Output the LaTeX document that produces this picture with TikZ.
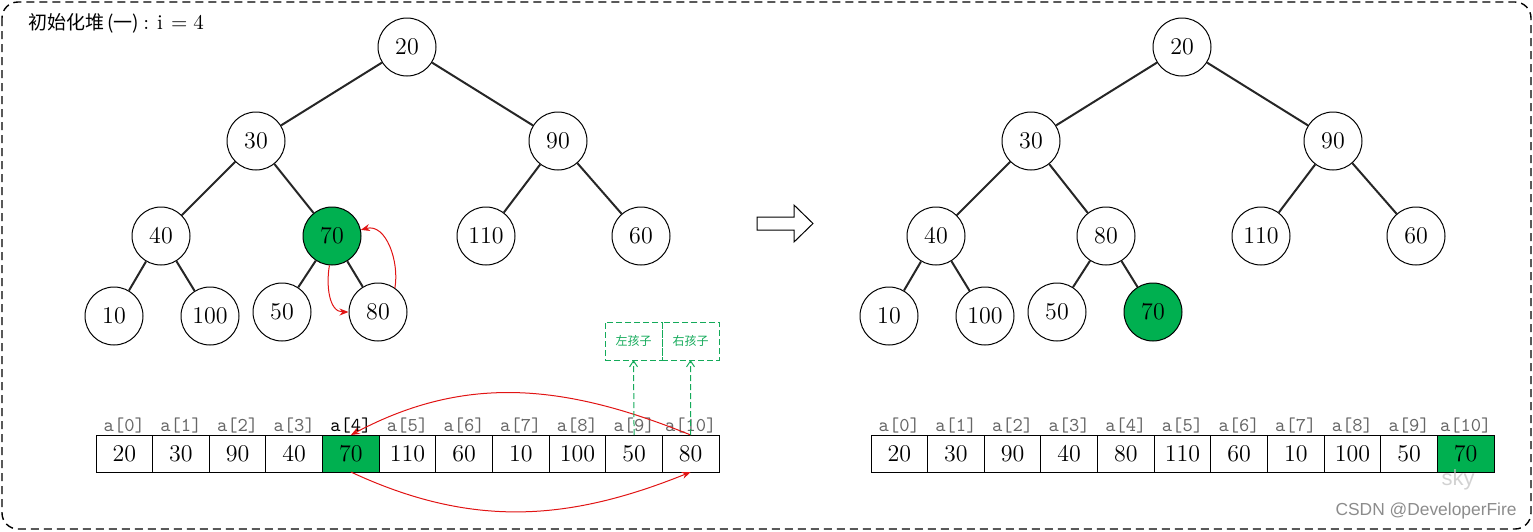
\documentclass[tikz,border=0pt]{standalone}
\usepackage{fontspec}
\newfontfamily\cjk{Noto Sans CJK SC}
\newfontfamily\wmark{Liberation Sans}
\usetikzlibrary{positioning, arrows.meta}
\definecolor{heapgreen}{RGB}{0,176,80}
\definecolor{swapred}{RGB}{225,20,20}
\definecolor{hintgreen}{RGB}{20,170,90}
\tikzset{
  hnode/.style={circle, draw, line width=0.5pt, minimum size=29pt, inner sep=0pt, font=\fontsize{12}{14}\selectfont},
  hot/.style={fill=heapgreen},
  edge/.style={line width=1pt, black!85},
  cell/.style={rectangle, draw, line width=0.5pt, minimum width=28.32pt, minimum height=18.5pt, inner sep=0pt, outer sep=0pt, font=\fontsize{12}{14}\selectfont},
  lbl/.style={black!60, inner sep=0.5pt, font=\ttfamily\fontsize{9.8}{11}\selectfont},
  swap/.style={swapred, line width=0.5pt, -{Stealth[length=4.5pt, width=3.5pt]}},
  hintbox/.style={rectangle, draw=hintgreen, dash pattern=on 3pt off 1.5pt, line width=0.5pt, minimum width=28.5pt, minimum height=19pt, inner sep=0pt, outer sep=0pt, text=hintgreen, font=\cjk\fontsize{6}{7}\selectfont},
  hint/.style={hintgreen, line width=0.5pt, dash pattern=on 3pt off 1.5pt, -{Straight Barb[length=3pt, width=4pt]}}
}

\begin{document}
\begin{tikzpicture}[x=0.5pt, y=-0.5pt]
    \useasboundingbox (0,0) rectangle (1533,531);
    \draw[line width=0.7pt, dash pattern=on 4pt off 2.5pt, rounded corners=8pt] (2,2) rectangle (1531,529);
    \node (title) at (28,23) [anchor=west, inner sep=0pt, font=\cjk\fontsize{9.5}{11}\selectfont] {初始化堆\,(一)\hspace{2pt}{\rmfamily\fontsize{10.5}{11}\selectfont:\hspace{4pt}i\hspace{4pt}=\hspace{3pt}4}};

    % heap before the swap
    \node (a20)  at (407,47)  [hnode] {20};
    \node (a30)  at (256,141) [hnode] {30};
    \node (a90)  at (558,141) [hnode] {90};
    \node (a40)  at (161,236) [hnode] {40};
    \node (a70)  at (332,236) [hnode, hot] {70};
    \node (a110) at (486,236) [hnode] {110};
    \node (a60)  at (641,236) [hnode] {60};
    \node (a10)  at (114,316) [hnode] {10};
    \node (a100) at (210,316) [hnode] {100};
    \node (a50)  at (282,312) [hnode] {50};
    \node (a80)  at (378,312) [hnode] {80};
    \draw[edge] (a20) -- (a30);
    \draw[edge] (a20) -- (a90);
    \draw[edge] (a30) -- (a40);
    \draw[edge] (a30) -- (a70);
    \draw[edge] (a90) -- (a110);
    \draw[edge] (a90) -- (a60);
    \draw[edge] (a40) -- (a10);
    \draw[edge] (a40) -- (a100);
    \draw[edge] (a70) -- (a50);
    \draw[edge] (a70) -- (a80);
    \draw[swap] (a70.-95) to[out=-100, in=180] (a80.west);
    \draw[swap] (a80.55) to[out=80, in=15] (a70.12);

    % array before the swap
    \node (l0)  at (96,453.5) [cell, anchor=west, label={[lbl]above:{a[0]}}] {20};
    \node (l1)  [cell, right=0pt of l0, label={[lbl]above:{a[1]}}] {30};
    \node (l2)  [cell, right=0pt of l1, label={[lbl]above:{a[2]}}] {90};
    \node (l3)  [cell, right=0pt of l2, label={[lbl]above:{a[3]}}] {40};
    \node (l4)  [cell, hot, right=0pt of l3, label={[lbl, black]above:{a[4]}}] {70};
    \node (l5)  [cell, right=0pt of l4, label={[lbl]above:{a[5]}}] {110};
    \node (l6)  [cell, right=0pt of l5, label={[lbl]above:{a[6]}}] {60};
    \node (l7)  [cell, right=0pt of l6, label={[lbl]above:{a[7]}}] {10};
    \node (l8)  [cell, right=0pt of l7, label={[lbl]above:{a[8]}}] {100};
    \node (l9)  [cell, right=0pt of l8, label={[lbl]above:{a[9]}}] {50};
    \node (l10) [cell, right=0pt of l9, label={[lbl]above:{a[10]}}] {80};
    \draw[swap] (l10.north) to[out=158, in=28] (l4.north);
    \draw[swap] (l4.south) to[out=-25, in=-158] (l10.south);

    \node (lkid) at (633.5,341) [hintbox] {左孩子};
    \node (rkid) [hintbox, right=0pt of lkid] {右孩子};
    \draw[hint] (l9.north) -- (lkid.south);
    \draw[hint] (l10.north) -- (rkid.south);

    \draw[line width=0.5pt] (757,217) -- (794,217) -- (794,205) -- (813,223.5) -- (794,242) -- (794,230) -- (757,230) -- cycle;

    % heap after the swap
    \node (b20)  at (1182,47)  [hnode] {20};
    \node (b30)  at (1031,141) [hnode] {30};
    \node (b90)  at (1333,141) [hnode] {90};
    \node (b40)  at (936,236)  [hnode] {40};
    \node (b80)  at (1106,236) [hnode] {80};
    \node (b110) at (1261,236) [hnode] {110};
    \node (b60)  at (1416,236) [hnode] {60};
    \node (b10)  at (889,316)  [hnode] {10};
    \node (b100) at (985,316)  [hnode] {100};
    \node (b50)  at (1057,312) [hnode] {50};
    \node (b70)  at (1153,312) [hnode, hot] {70};
    \draw[edge] (b20) -- (b30);
    \draw[edge] (b20) -- (b90);
    \draw[edge] (b30) -- (b40);
    \draw[edge] (b30) -- (b80);
    \draw[edge] (b90) -- (b110);
    \draw[edge] (b90) -- (b60);
    \draw[edge] (b40) -- (b10);
    \draw[edge] (b40) -- (b100);
    \draw[edge] (b80) -- (b50);
    \draw[edge] (b80) -- (b70);

    % array after the swap
    \node (r0)  at (871,453.5) [cell, anchor=west, label={[lbl]above:{a[0]}}] {20};
    \node (r1)  [cell, right=0pt of r0, label={[lbl]above:{a[1]}}] {30};
    \node (r2)  [cell, right=0pt of r1, label={[lbl]above:{a[2]}}] {90};
    \node (r3)  [cell, right=0pt of r2, label={[lbl]above:{a[3]}}] {40};
    \node (r4)  [cell, right=0pt of r3, label={[lbl]above:{a[4]}}] {80};
    \node (r5)  [cell, right=0pt of r4, label={[lbl]above:{a[5]}}] {110};
    \node (r6)  [cell, right=0pt of r5, label={[lbl]above:{a[6]}}] {60};
    \node (r7)  [cell, right=0pt of r6, label={[lbl]above:{a[7]}}] {10};
    \node (r8)  [cell, right=0pt of r7, label={[lbl]above:{a[8]}}] {100};
    \node (r9)  [cell, right=0pt of r8, label={[lbl]above:{a[9]}}] {50};
    \node (r10) [cell, hot, right=0pt of r9, label={[lbl]above:{a[10]}}] {70};

    \node (sky) at (1458,480) [black!25, opacity=0.7, inner sep=0pt, font=\wmark\fontsize{11}{12}\selectfont] {sky};
    \node (csdn) at (1517,511) [anchor=east, inner sep=0pt, black!45, font=\wmark\fontsize{8.7}{10}\selectfont] {CSDN @DeveloperFire};
\end{tikzpicture}
\end{document}
